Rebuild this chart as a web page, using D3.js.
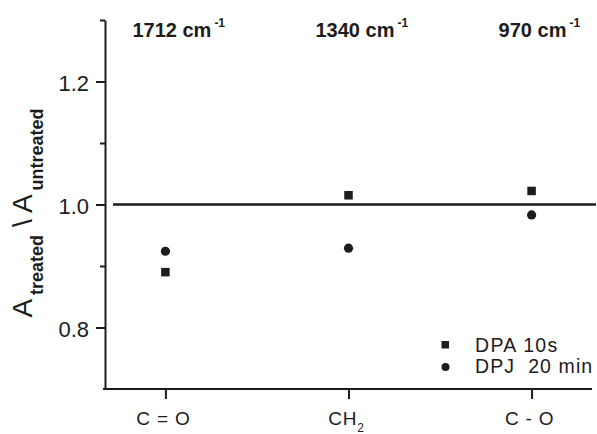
<!DOCTYPE html>
<html><head><meta charset="utf-8">
<script src="https://cdn.jsdelivr.net/npm/d3@7"></script>
<style>
body{margin:0;background:#fff;}
svg{display:block;font-family:"Liberation Sans",Arial,sans-serif;}
</style></head>
<body>
<script>
const categories = ["C = O", "CH2", "C - O"];
const bandLabels = ["1712", "1340", "970"];
const seriesNames = ["DPA 10s", "DPJ  20 min"];
const dpa = [0.890, 1.015, 1.022];
const dpj = [0.924, 0.929, 0.983];
const majorTicks = [0.8, 1.0, 1.2];
const minorTicks = [0.9, 1.1, 1.3];
const refValue = 1.0;

const W = 597, H = 434;
const ink = "#1c1c1c";
const svg = d3.select("body").append("svg").attr("width", W).attr("height", H);

const x = d3.scalePoint().domain(categories).range([105, 592]).padding(0.33);
const y = d3.scaleLinear().domain([0.7, 1.3]).range([389, 20]);

// Y axis
const yAxis = svg.append("g").attr("transform", "translate(105,0)");
yAxis.call(d3.axisLeft(y).tickValues(majorTicks).tickSize(9).tickSizeOuter(0).tickFormat(d3.format(".1f")));
yAxis.append("g").call(d3.axisLeft(y).tickValues(minorTicks).tickSize(5).tickSizeOuter(0).tickFormat(""))
  .select(".domain").remove();
yAxis.selectAll("path,line").attr("stroke", ink).attr("stroke-width", 2);
yAxis.selectAll("text").attr("fill", ink).attr("font-size", 22).attr("font-family", "Liberation Sans, Arial, sans-serif")
  .attr("x", -16).attr("dy", "0.4em");

// X axis
const xAxis = svg.append("g").attr("transform", "translate(0,389)");
xAxis.call(d3.axisBottom(x).tickSize(10).tickSizeOuter(0).tickFormat(""));
xAxis.select(".domain").attr("d", "M103,0H592");
xAxis.selectAll("path,line").attr("stroke", ink).attr("stroke-width", 2);

// X category labels
categories.forEach(c => {
  const t = svg.append("text").attr("x", x(c) - 2).attr("y", 425).attr("text-anchor", "middle")
    .attr("font-size", 19).attr("fill", ink).attr("letter-spacing", 0.8);
  if (c === "CH2") {
    t.append("tspan").text("CH");
    t.append("tspan").attr("font-size", 12).attr("dy", 7).text("2");
  } else {
    t.text(c);
  }
});

// top band labels
bandLabels.forEach((b, i) => {
  const t = svg.append("text").attr("x", x(categories[i]) - 33).attr("y", 37)
    .attr("font-size", 20).attr("font-weight", "bold").attr("fill", ink);
  t.append("tspan").text(b + " cm");
  t.append("tspan").attr("font-size", 12).attr("dx", 3).attr("dy", -10).text("-1");
});

// reference line
svg.append("line").attr("x1", 113).attr("x2", 596).attr("y1", y(refValue)).attr("y2", y(refValue))
  .attr("stroke", ink).attr("stroke-width", 2.4);

// data points
const sq = 8.5, cr = 4.6;
svg.append("g").selectAll("rect").data(dpa).join("rect")
  .attr("x", (d, i) => x(categories[i]) - sq / 2).attr("y", d => y(d) - sq / 2)
  .attr("width", sq).attr("height", sq).attr("fill", ink);
svg.append("g").selectAll("circle").data(dpj).join("circle")
  .attr("cx", (d, i) => x(categories[i])).attr("cy", d => y(d)).attr("r", cr).attr("fill", ink);

// legend
const lg = svg.append("g");
lg.append("rect").attr("x", 441.5).attr("y", 341).attr("width", 7.5).attr("height", 7.5).attr("fill", ink);
lg.append("circle").attr("cx", 445.5).attr("cy", 367).attr("r", 4).attr("fill", ink);
lg.append("text").attr("x", 475).attr("y", 352).attr("font-size", 19.5).attr("letter-spacing", 1.3).attr("fill", ink).style("white-space", "pre").text(seriesNames[0]);
lg.append("text").attr("x", 475).attr("y", 373).attr("font-size", 19.5).attr("letter-spacing", 1.1).attr("fill", ink).style("white-space", "pre").text(seriesNames[1]);

// y label
const yl = svg.append("text").attr("transform", "translate(32,213) rotate(-90)").attr("text-anchor", "middle").attr("fill", ink);
yl.append("tspan").attr("font-size", 28).text("A");
yl.append("tspan").attr("font-size", 18).attr("font-weight", "bold").attr("dy", 11).attr("dx", 4).text("treated");
yl.append("tspan").attr("font-size", 28).attr("dy", -11).style("white-space", "pre").text(" \\ A");
yl.append("tspan").attr("font-size", 18).attr("font-weight", "bold").attr("dy", 11).attr("dx", 4).text("untreated");
</script>
</body></html>
